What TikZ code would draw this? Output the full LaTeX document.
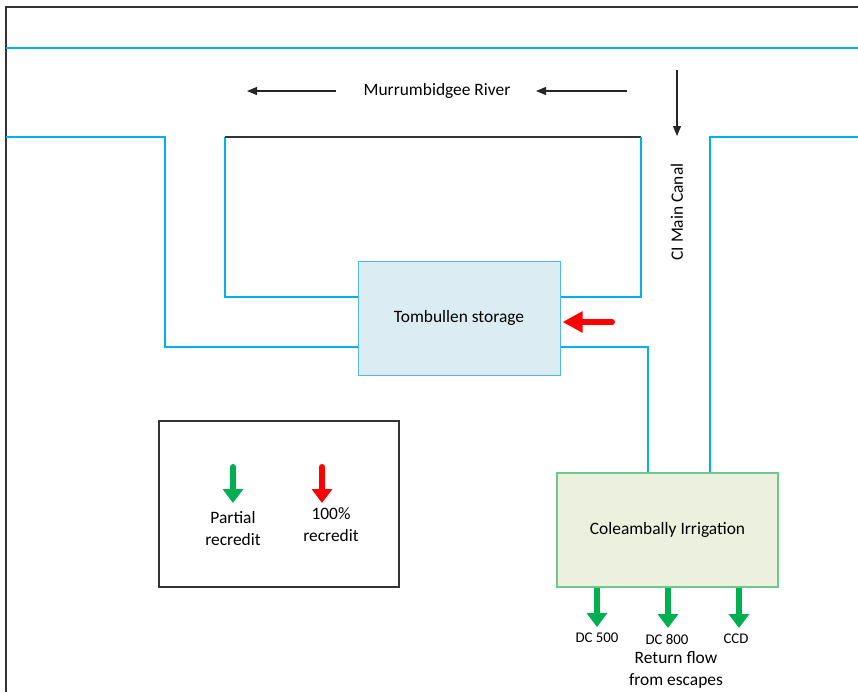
\documentclass[tikz,border=0pt]{standalone}
\usepackage{fontspec}
\setmainfont{Carlito}
\usetikzlibrary{arrows.meta, positioning}
\definecolor{azulRio}{RGB}{0,176,240}
\definecolor{fundoArmazem}{RGB}{219,236,243}
\definecolor{bordaArmazem}{RGB}{80,185,230}
\definecolor{fundoIrrigacao}{RGB}{235,241,222}
\definecolor{bordaIrrigacao}{RGB}{110,200,140}
\definecolor{verdeRetorno}{RGB}{0,176,80}

\begin{document}
\begin{tikzpicture}[
    x=0.5pt, y=-0.5pt,
    every node/.style={font=\fontsize{8.7}{11}\selectfont, inner sep=0pt},
    river/.style={draw=azulRio, line width=1pt},
    flow/.style={draw=black!85, line width=0.6pt, -{Triangle[length=5pt, width=4pt]}},
    storage/.style={draw=bordaArmazem, fill=fundoArmazem, line width=0.5pt, minimum width=101pt, minimum height=57pt},
    irrigation/.style={draw=bordaIrrigacao, fill=fundoIrrigacao, line width=0.6pt, minimum width=110.5pt, minimum height=57pt},
    legendbox/.style={draw=black!80, line width=0.6pt, minimum width=120pt, minimum height=83pt},
    partial/.style={draw=verdeRetorno, line width=3pt, line cap=round, -{Triangle[length=7pt, width=10pt]}},
    full/.style={draw=red, line width=3pt, line cap=round, -{Triangle[length=7pt, width=10pt]}},
    smalllabel/.style={font=\fontsize{7.4}{9}\selectfont}
]
    \useasboundingbox (0,0) rectangle (858,692);

    % Moldura
    \draw[black!80, line width=1pt] (6,692) -- (6,7) -- (858,7);

    % Caixas
    \node[storage] (tomb) at (459,318) {Tombullen storage};
    \node[irrigation] (irr) at (667.5,530) {Coleambally Irrigation};
    \node[legendbox] (leg) at (279,504) {};

    % Rio Murrumbidgee
    \draw[river] (6,48) -- (858,48);
    \node (rname) at (437,91) {Murrumbidgee River};
    \draw[flow] (336,91) -- (247,91);
    \draw[flow] (627,91) -- (536,91);

    % Canais de ligacao
    \draw[river] (6,137) -- (165,137) -- (165,347) -- ([yshift=-14.5pt]tomb.west);
    \draw[river] ([yshift=10.5pt]tomb.west) -- (225,297) -- (225,137);
    \draw[black!80, line width=0.6pt] (225,137) -- (641,137);
    \draw[river] (641,137) -- (641,297) -- ([yshift=10.5pt]tomb.east);
    \draw[river] ([yshift=-14.5pt]tomb.east) -- (648,347) -- (648,0 |- irr.north);
    \draw[river] (858,137) -- (710,137) -- (710,0 |- irr.north);

    % Canal principal
    \draw[flow] (677,70) -- (677,136);
    \node[rotate=90] (canal) at (677,212) {CI Main Canal};

    % Recredito total na barragem
    \draw[full, -{Triangle[length=10pt, width=10pt]}] (612,322) -- ([xshift=1pt]tomb.east |- 0,322);

    % Legenda
    \draw[partial] (233,467) -- (233,503);
    \node[align=center] (lpartial) at (233,529) {Partial\\recredit};
    \draw[full] (322,467) -- (322,503);
    \node[align=center] (lfull) at (331,525) {100\%\\recredit};

    % Retornos dos escoadouros
    \draw[partial, line cap=butt] (597,0 |- irr.south) -- (597,627);
    \draw[partial, line cap=butt] (668,0 |- irr.south) -- (668,628);
    \draw[partial, line cap=butt] (739,0 |- irr.south) -- (739,628);
    \node[smalllabel] (dc500) at (597,638) {DC 500};
    \node[smalllabel] (dc800) at (667,639) {DC 800};
    \node[smalllabel] (ccd) at (736,639) {CCD};
    \node[align=center] (escapes) at (676,670) {Return flow\\from escapes};

\end{tikzpicture}
\end{document}
